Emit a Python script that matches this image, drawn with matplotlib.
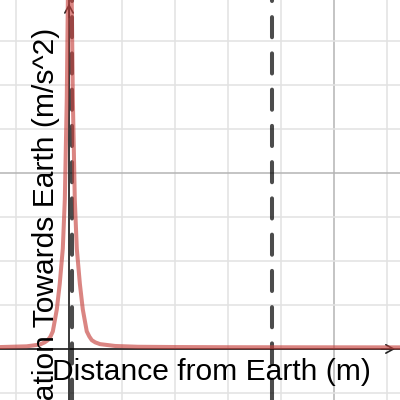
import numpy as np
import matplotlib
matplotlib.use('Agg')
import matplotlib.pyplot as plt
from matplotlib.ticker import MultipleLocator

# Curva (distancia en m, aceleración en m/s^2)
distancia = [-1.40e8, -0.80e8, -0.55e8, -0.46e8, -0.40e8, -0.35e8, -0.305e8, -0.23e8,
             -0.175e8, -0.117e8, -0.079e8, -0.042e8, -0.010e8, 0.015e8,
             0.040e8, 0.072e8, 0.109e8, 0.147e8, 0.205e8, 0.26e8, 0.335e8,
             0.385e8, 0.43e8, 0.495e8, 0.585e8, 0.87e8, 1.3e8, 2.0e8, 3.0e8,
             4.5e8, 6.5e8]
aceleracion = [0.020, 0.030, 0.050, 0.075, 0.10, 0.14, 0.20, 0.45,
               0.74, 1.14, 1.70, 2.85, 4.6, 6.0,
               4.6, 2.85, 1.70, 1.14, 0.74, 0.45, 0.20,
               0.14, 0.10, 0.075, 0.055, 0.034, 0.025, 0.022, 0.020,
               0.019, 0.018]

# Líneas verticales discontinuas (radio terrestre y distancia a la Luna)
lineas_x = [0.057e8, 3.83e8]

x_lim = (-1.302e8, 6.245e8)
y_lim = (-0.580, 3.966)

fig = plt.figure(figsize=(4, 4), dpi=100)
ax = fig.add_axes([0, 0, 1, 1])
ax.set_xlim(*x_lim)
ax.set_ylim(*y_lim)

# Cuadrícula estilo Desmos
ax.xaxis.set_major_locator(MultipleLocator(5e8))
ax.xaxis.set_minor_locator(MultipleLocator(1e8))
ax.yaxis.set_major_locator(MultipleLocator(2))
ax.yaxis.set_minor_locator(MultipleLocator(0.5))
ax.grid(which='minor', color='#e2e2e2', lw=1.1, zorder=0)
ax.grid(which='major', color='#b4b4b4', lw=1.1, zorder=0.5)
ax.tick_params(which='both', length=0, labelbottom=False, labelleft=False)
for s in ax.spines.values():
    s.set_visible(False)

# Ejes con flechas
ax.axhline(0, color='#222222', lw=1.2, zorder=2)
ax.axvline(0, color='#222222', lw=1.2, zorder=2)
ap = dict(arrowstyle='->,head_length=0.55,head_width=0.3', lw=1.2, color='#222222')
ax.annotate('', xy=(0.995, 0), xycoords=('axes fraction', 'data'),
            xytext=(-14, 0), textcoords='offset points', arrowprops=ap, zorder=2)
ax.annotate('', xy=(0, 0.998), xycoords=('data', 'axes fraction'),
            xytext=(0, -14), textcoords='offset points', arrowprops=ap, zorder=2)

for xv in lineas_x:
    ax.plot([xv, xv], [y_lim[1], y_lim[0]], color='#000000', alpha=0.7, lw=2.9,
            linestyle=(4.75, (5, 4)), dash_capstyle='round', zorder=3)

ax.plot(distancia, aceleracion, color='#c74440', alpha=0.65, lw=2.9,
        solid_joinstyle='round', zorder=4)

fuente = 'Liberation Sans'
fig.text(52 / 400, 1 - 380 / 400, 'Distance from Earth (m)', fontsize=21.6,
         family=fuente, ha='left', va='baseline', color='black', zorder=5)
fig.text(54 / 400, 1 - 28 / 400, 'Acceleration Towards Earth (m/s^2)', fontsize=21.6,
         family=fuente, rotation=90, rotation_mode='anchor', ha='right',
         va='baseline', color='black', zorder=5)

fig.savefig('out.png', dpi=100)
